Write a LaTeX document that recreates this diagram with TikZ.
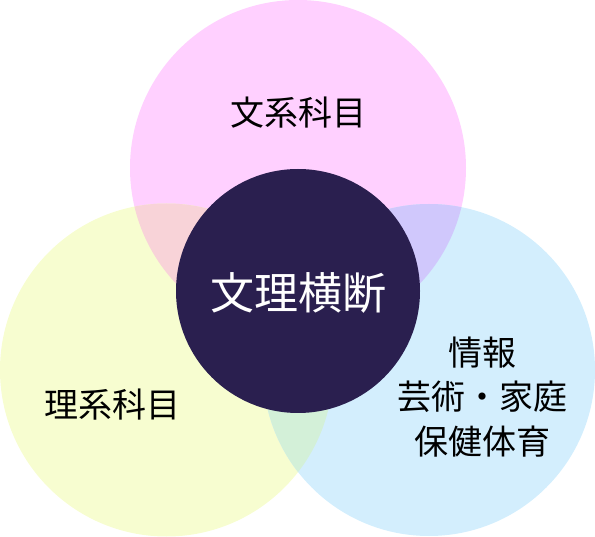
\documentclass[tikz,border=0pt]{standalone}
\usepackage{fontspec}
\setmainfont{Noto Sans CJK JP}
\definecolor{pinkc}{HTML}{FFD0FF}
\definecolor{yelc}{HTML}{F7FDD0}
\definecolor{bluec}{HTML}{D3EEFD}
\definecolor{pyc}{HTML}{F8D3D8}
\definecolor{pbc}{HTML}{D0C8FC}
\definecolor{ybc}{HTML}{D3F0D8}
\definecolor{darkc}{HTML}{2A1F4F}
\tikzset{lbl/.style={font=\fontsize{34}{44.5}\selectfont, align=center, text=black}}
\begin{document}
\begin{tikzpicture}[x=1pt,y=-1pt]
\useasboundingbox (0,0) rectangle (595,537);
\def\top{(298,168) circle (168)}
\def\lft{(166.5,370) circle (166.5)}
\def\rgt{(429,370) circle (166)}
\fill[pinkc] \top;
\fill[yelc] \lft;
\fill[bluec] \rgt;
\begin{scope}\clip \top; \fill[pyc] \lft; \end{scope}
\begin{scope}\clip \top; \fill[pbc] \rgt; \end{scope}
\begin{scope}\clip \lft; \fill[ybc] \rgt; \end{scope}
\node[circle, fill=darkc, minimum size=244pt, inner sep=0pt] (c) at (298,291) {};
\node[font=\fontsize{44}{50}\selectfont, text=white] (ct) at (298,293) {文理横断};
\node[lbl] (a) at (298,113) {文系科目};
\node[lbl] (b) at (113,405) {理系科目};
\node[lbl] (d) at (482,397) {情報\\芸術・家庭\\保健体育};
\end{tikzpicture}
\end{document}
